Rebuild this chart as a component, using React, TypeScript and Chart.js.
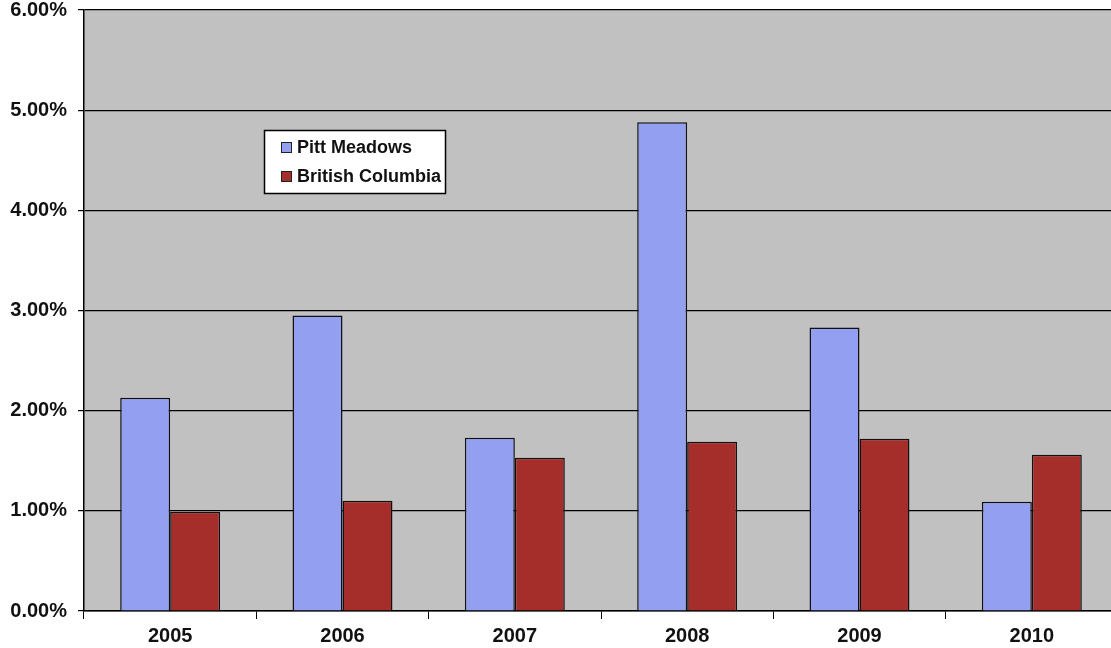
import React, { useEffect, useRef } from "react";
import { Chart, registerables } from "chart.js";

Chart.register(...registerables);

const categories = ["2005", "2006", "2007", "2008", "2009", "2010"];
const pittMeadows = [2.13, 2.95, 1.73, 4.88, 2.83, 1.09];
const britishColumbia = [0.99, 1.1, 1.53, 1.69, 1.72, 1.56];
const seriesNames = ["Pitt Meadows", "British Columbia"];
const seriesColors = ["#939ff0", "#a52d2a"];
const yTicks = [0, 1, 2, 3, 4, 5, 6];

const FONT = "Arial, 'Liberation Sans', sans-serif";

const bgPlugin = {
  id: "plotBg",
  beforeDraw(chart: any) {
    const { ctx, chartArea } = chart;
    ctx.save();
    ctx.fillStyle = "#c0c1c0";
    ctx.fillRect(chartArea.left, chartArea.top, chartArea.right - chartArea.left, chartArea.bottom - chartArea.top);
    ctx.restore();
  },
};

const legendPlugin = {
  id: "boxLegend",
  afterDraw(chart: any) {
    const { ctx, chartArea } = chart;
    const x0 = chartArea.left + 180;
    const y0 = chartArea.top + 120;
    ctx.save();
    ctx.font = `bold 18px ${FONT}`;
    const datasets = chart.data.datasets;
    let maxW = 0;
    datasets.forEach((d: any) => {
      maxW = Math.max(maxW, ctx.measureText(d.label).width);
    });
    const w = 17 + 11 + 5 + maxW + 4;
    const h = 63;
    ctx.fillStyle = "#ffffff";
    ctx.fillRect(x0, y0, w, h);
    ctx.strokeStyle = "#000000";
    ctx.lineWidth = 1.5;
    ctx.strokeRect(x0 + 0.5, y0 + 0.5, w, h);
    datasets.forEach((d: any, i: number) => {
      const cy = y0 + 18 + i * 29;
      ctx.fillStyle = d.backgroundColor;
      ctx.fillRect(x0 + 17, cy - 6, 11, 11);
      ctx.strokeStyle = "#222";
      ctx.lineWidth = 1;
      ctx.strokeRect(x0 + 17.5, cy - 5.5, 10, 10);
      ctx.fillStyle = "#111111";
      ctx.textBaseline = "middle";
      ctx.textAlign = "left";
      ctx.fillText(d.label, x0 + 33, cy);
    });
    ctx.restore();
  },
};

export default function App() {
  const ref = useRef<HTMLCanvasElement | null>(null);
  useEffect(() => {
    document.body.style.margin = "0";
    document.body.style.overflow = "hidden";
    const chart = new Chart(ref.current as HTMLCanvasElement, {
      type: "bar",
      data: {
        labels: categories,
        datasets: [
          {
            label: seriesNames[0],
            data: pittMeadows,
            backgroundColor: seriesColors[0],
            borderColor: "#111111",
            borderWidth: 1.5,
            categoryPercentage: 0.58,
            barPercentage: 1,
          },
          {
            label: seriesNames[1],
            data: britishColumbia,
            backgroundColor: seriesColors[1],
            borderColor: "#111111",
            borderWidth: 1.5,
            categoryPercentage: 0.58,
            barPercentage: 1,
          },
        ],
      },
      options: {
        animation: false,
        responsive: false,
        layout: { padding: { top: 10, right: 0, bottom: 0, left: 1 } },
        plugins: {
          legend: { display: false },
          tooltip: { enabled: false },
        },
        scales: {
          x: {
            offset: true,
            afterFit(scale: any) {
              scale.height = 37;
              scale.paddingLeft = 0;
              scale.paddingRight = 0;
            },
            grid: {
              offset: true,
              drawOnChartArea: false,
              drawTicks: true,
              tickLength: 8,
              color: "#000000",
            },
            border: { color: "#000000", width: 1.5 },
            ticks: {
              color: "#111111",
              font: { family: FONT, size: 20, weight: "bold" },
              padding: 5,
              maxRotation: 0,
            },
          },
          y: {
            min: 0,
            max: 6,
            afterBuildTicks(scale: any) {
              scale.ticks = yTicks.map((v) => ({ value: v }));
            },
            afterFit(scale: any) {
              scale.width = 83;
              scale.paddingTop = 0;
              scale.paddingBottom = 0;
            },
            grid: {
              color: "#000000",
              lineWidth: 1.2,
              drawTicks: true,
              tickLength: 6,
            },
            border: { color: "#000000", width: 1.5 },
            ticks: {
              color: "#111111",
              font: { family: FONT, size: 20, weight: "bold" },
              padding: 11,
              callback: (v: any) => Number(v).toFixed(2) + "%",
            },
          },
        },
      },
      plugins: [bgPlugin, legendPlugin],
    });
    return () => chart.destroy();
  }, []);
  return (
    <div style={{ width: 1111, height: 648, overflow: "hidden" }}>
      <canvas ref={ref} width={1118} height={648} style={{ display: "block" }} />
    </div>
  );
}
